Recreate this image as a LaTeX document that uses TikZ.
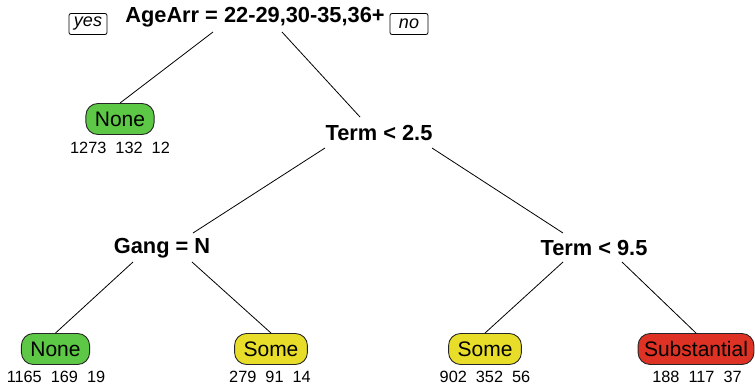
\documentclass[tikz,border=0pt]{standalone}
\usepackage{xcolor}
\usepackage{fontspec}
\setmainfont{Liberation Sans}
\usepackage{tikz}
\definecolor{leafgreen}{RGB}{93,199,70}
\definecolor{leafyellow}{RGB}{232,222,42}
\definecolor{leafred}{RGB}{222,50,36}

\begin{document}
\begin{tikzpicture}[x=1pt, y=-1pt,
  split/.style={font=\fontsize{21.8}{26}\selectfont\bfseries, inner sep=0pt, anchor=base},
  leaf/.style={draw=black!85, line width=0.9pt, rounded corners=12pt, minimum height=31pt, inner xsep=9pt, inner ysep=0pt, font=\fontsize{21}{25}\selectfont},
  counts/.style={font=\fontsize{16.3}{19}\selectfont, inner sep=0pt, anchor=base},
  side/.style={draw, line width=0.8pt, rounded corners=2pt, minimum height=21pt, minimum width=38pt, inner xsep=3pt, inner ysep=0pt, font=\fontsize{18}{21}\selectfont\itshape},
  branch/.style={black, line width=0.8pt}]
\useasboundingbox (0,0) rectangle (755,388);
% split labels
\node[split] (root) at (255,22) {AgeArr = 22-29,30-35,36+};
\node[side] (yes) at (88,24) {yes};
\node[side] (no) at (409,24) {no};
\node[split] (term1) at (379,140) {Term < 2.5};
\node[split] (gang) at (162,253) {Gang = N};
\node[split] (term2) at (594,255) {Term < 9.5};
% leaves
\node[leaf, fill=leafgreen] (none1) at (120,119) {None};
\node[counts] (none1n) at (120,153) {1273\ \ 132\ \ 12};
\node[leaf, fill=leafgreen] (none2) at (55.5,349) {None};
\node[counts] (none2n) at (56,382) {1165\ \ 169\ \ 19};
\node[leaf, fill=leafyellow] (some1) at (271,349) {Some};
\node[counts] (some1n) at (270,382) {279\ \ 91\ \ 14};
\node[leaf, fill=leafyellow] (some2) at (485,349) {Some};
\node[counts] (some2n) at (485,382) {902\ \ 352\ \ 56};
\node[leaf, fill=leafred, inner xsep=6pt] (subst) at (696,349) {Substantial};
\node[counts] (substn) at (697,382) {188\ \ 117\ \ 37};
% branches
\draw[branch] ([shift={(-42,10)}]root.base) -- (none1.north);
\draw[branch] ([shift={(27,10)}]root.base) -- ([shift={(-19,-23)}]term1.base);
\draw[branch] ([shift={(-54,8)}]term1.base) -- ([shift={(31,-20)}]gang.base);
\draw[branch] ([shift={(53,8)}]term1.base) -- ([shift={(-31,-22)}]term2.base);
\draw[branch] ([shift={(-29,9)}]gang.base) -- (none2.north);
\draw[branch] ([shift={(30,9)}]gang.base) -- (some1.north);
\draw[branch] ([shift={(-31,7)}]term2.base) -- (some2.north);
\draw[branch] ([shift={(28,7)}]term2.base) -- (subst.north);
\end{tikzpicture}
\end{document}
